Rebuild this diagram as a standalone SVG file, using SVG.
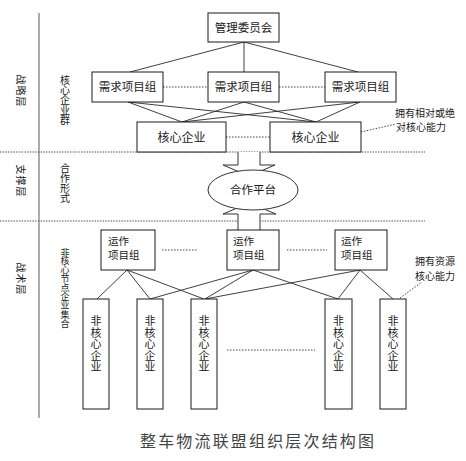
<svg xmlns="http://www.w3.org/2000/svg" width="466" height="461" viewBox="0 0 466 461">
<style>
.bx{fill:#fff;stroke:#1a1a1a;stroke-width:1}
.t{font-family:"Noto Sans CJK SC","Liberation Sans",sans-serif;fill:#1a1a1a}
.c{text-anchor:middle}
.ln{stroke:#2a2a2a;stroke-width:0.9;fill:none}
.dot{stroke:#444;stroke-width:1;stroke-dasharray:1.5 1.5;fill:none}
.sec{stroke:#555;stroke-width:1;stroke-dasharray:1.5 1.2;fill:none}
.nv{font-size:11px}
</style>
<rect width="466" height="461" fill="#fff"/>
<g id="frame">
<line x1="39" y1="13" x2="39" y2="418" stroke="#999" stroke-width="1.6"/>
<line class="sec" x1="0" y1="152" x2="425" y2="152"/>
<line class="sec" x1="0" y1="221" x2="425" y2="221"/>
<text class="t" font-size="10" letter-spacing="1" text-anchor="middle" dominant-baseline="central" transform="translate(21,91) rotate(90)">战略层</text>
<text class="t" font-size="10" letter-spacing="1" text-anchor="middle" dominant-baseline="central" transform="translate(21,181) rotate(90)">支撑层</text>
<text class="t" font-size="10" letter-spacing="1" text-anchor="middle" dominant-baseline="central" transform="translate(21,279) rotate(90)">战术层</text>
<text class="t c" font-size="10"><tspan x="65" y="83.5">核</tspan><tspan x="65" y="93.5">心</tspan><tspan x="65" y="103.5">企</tspan><tspan x="65" y="113.5">业</tspan><tspan x="65" y="123.5">群</tspan></text>
<text class="t c" font-size="10"><tspan x="65" y="171.5">合</tspan><tspan x="65" y="181.5">作</tspan><tspan x="65" y="191.5">形</tspan><tspan x="65" y="201.5">式</tspan></text>
<text class="t c" font-size="9"><tspan x="65" y="255.5">非</tspan><tspan x="65" y="264.3">核</tspan><tspan x="65" y="273.1">心</tspan><tspan x="65" y="281.9">节</tspan><tspan x="65" y="290.7">点</tspan><tspan x="65" y="299.5">企</tspan><tspan x="65" y="308.3">业</tspan><tspan x="65" y="318">集</tspan><tspan x="65" y="326.8">合</tspan></text>
</g>
<g id="connectors">
<line class="ln" x1="244" y1="42" x2="130" y2="72"/>
<line class="ln" x1="244" y1="42" x2="244" y2="72"/>
<line class="ln" x1="244" y1="42" x2="358" y2="72"/>
<line class="dot" x1="163" y1="87" x2="208" y2="87"/>
<line class="dot" x1="279" y1="87" x2="325" y2="87"/>
<line class="ln" x1="128" y1="102" x2="182" y2="122"/>
<line class="ln" x1="128" y1="102" x2="316" y2="122"/>
<line class="ln" x1="244" y1="102" x2="182" y2="122"/>
<line class="ln" x1="244" y1="102" x2="316" y2="122"/>
<line class="ln" x1="360" y1="102" x2="182" y2="122"/>
<line class="ln" x1="360" y1="102" x2="316" y2="122"/>
<line class="dot" x1="226" y1="137" x2="270" y2="137"/>
<line class="dot" x1="361" y1="132" x2="396" y2="124"/>
<path d="M238,152 V165 H223 L249,176 L275,165 H260 V152" fill="#fff" stroke="#333" stroke-width="1"/>
<path d="M238,230 V214 H223 L249,203 L276,214 H260 V230" fill="#fff" stroke="#333" stroke-width="1"/>
<line class="dot" x1="162" y1="250" x2="197" y2="250"/>
<line class="dot" x1="287" y1="250" x2="327" y2="250"/>
<line class="ln" x1="127" y1="270" x2="97" y2="299"/>
<line class="ln" x1="127" y1="270" x2="150" y2="299"/>
<line class="ln" x1="127" y1="270" x2="204" y2="299"/>
<line class="ln" x1="253" y1="270" x2="150" y2="299"/>
<line class="ln" x1="253" y1="270" x2="205" y2="299"/>
<line class="ln" x1="253" y1="270" x2="338" y2="299"/>
<line class="ln" x1="360" y1="270" x2="205" y2="299"/>
<line class="ln" x1="360" y1="270" x2="338" y2="299"/>
<line class="ln" x1="360" y1="270" x2="393" y2="299"/>
<line class="dot" x1="227" y1="350" x2="315" y2="350"/>
<line class="dot" x1="400" y1="298" x2="422" y2="282"/>
</g>
<g id="mgmt">
<rect class="bx" x="208" y="13" width="71" height="29"/>
<text class="t" font-size="11.5" x="243.5" y="31.5" text-anchor="middle">管理委员会</text>
</g>
<g id="demand1">
<rect class="bx" x="92" y="72" width="71" height="30"/>
<text class="t" font-size="11.5" x="127.5" y="91" text-anchor="middle">需求项目组</text>
</g>
<g id="demand2">
<rect class="bx" x="208" y="72" width="71" height="30"/>
<text class="t" font-size="11.5" x="243.5" y="91" text-anchor="middle">需求项目组</text>
</g>
<g id="demand3">
<rect class="bx" x="325" y="72" width="71" height="30"/>
<text class="t" font-size="11.5" x="360.5" y="91" text-anchor="middle">需求项目组</text>
</g>
<g id="core1">
<rect class="bx" x="137" y="122" width="89" height="30"/>
<text class="t" font-size="12" x="181.5" y="141.5" text-anchor="middle">核心企业</text>
</g>
<g id="core2">
<rect class="bx" x="270" y="122" width="91" height="30"/>
<text class="t" font-size="12" x="315.5" y="141.5" text-anchor="middle">核心企业</text>
</g>
<g id="note1">
<text class="t" font-size="10" x="395" y="117">拥有相对或绝</text>
<text class="t" font-size="10" x="396" y="131">对核心能力</text>
</g>
<g id="platform">
<ellipse cx="253" cy="190" rx="45" ry="20" fill="#fff" stroke="#333" stroke-width="1"/>
<text class="t" font-size="11.5" x="253" y="194" text-anchor="middle">合作平台</text>
</g>
<g id="ops1">
<rect class="bx" x="101" y="230" width="54" height="40"/>
<text class="t" font-size="10.5" x="108" y="245">运作</text>
<text class="t" font-size="10.5" x="108" y="259">项目组</text>
</g>
<g id="ops2">
<rect class="bx" x="227" y="230" width="52" height="40"/>
<text class="t" font-size="10.5" x="233" y="245">运作</text>
<text class="t" font-size="10.5" x="233" y="259">项目组</text>
</g>
<g id="ops3">
<rect class="bx" x="335" y="230" width="52" height="40"/>
<text class="t" font-size="10.5" x="341" y="245">运作</text>
<text class="t" font-size="10.5" x="341" y="259">项目组</text>
</g>
<g id="note2">
<text class="t" font-size="10" x="415" y="265">拥有资源</text>
<text class="t" font-size="10" x="415" y="280">核心能力</text>
</g>
<g id="nc1">
<rect class="bx" x="83" y="299" width="26" height="110"/>
<text class="t c nv"><tspan x="96" y="325">非</tspan><tspan x="96" y="336.5">核</tspan><tspan x="96" y="348">心</tspan><tspan x="96" y="359.5">企</tspan><tspan x="96" y="371">业</tspan></text>
</g>
<g id="nc2">
<rect class="bx" x="137" y="299" width="26" height="110"/>
<text class="t c nv"><tspan x="150" y="325">非</tspan><tspan x="150" y="336.5">核</tspan><tspan x="150" y="348">心</tspan><tspan x="150" y="359.5">企</tspan><tspan x="150" y="371">业</tspan></text>
</g>
<g id="nc3">
<rect class="bx" x="191" y="299" width="26" height="110"/>
<text class="t c nv"><tspan x="204" y="325">非</tspan><tspan x="204" y="336.5">核</tspan><tspan x="204" y="348">心</tspan><tspan x="204" y="359.5">企</tspan><tspan x="204" y="371">业</tspan></text>
</g>
<g id="nc4">
<rect class="bx" x="325" y="299" width="27" height="110"/>
<text class="t c nv"><tspan x="338.5" y="325">非</tspan><tspan x="338.5" y="336.5">核</tspan><tspan x="338.5" y="348">心</tspan><tspan x="338.5" y="359.5">企</tspan><tspan x="338.5" y="371">业</tspan></text>
</g>
<g id="nc5">
<rect class="bx" x="380" y="299" width="26" height="110"/>
<text class="t c nv"><tspan x="393" y="325">非</tspan><tspan x="393" y="336.5">核</tspan><tspan x="393" y="348">心</tspan><tspan x="393" y="359.5">企</tspan><tspan x="393" y="371">业</tspan></text>
</g>
<g id="title">
<text class="t" font-size="16" x="140" y="447" style="fill:#444" textLength="234" lengthAdjust="spacing">整车物流联盟组织层次结构图</text>
</g>
</svg>
